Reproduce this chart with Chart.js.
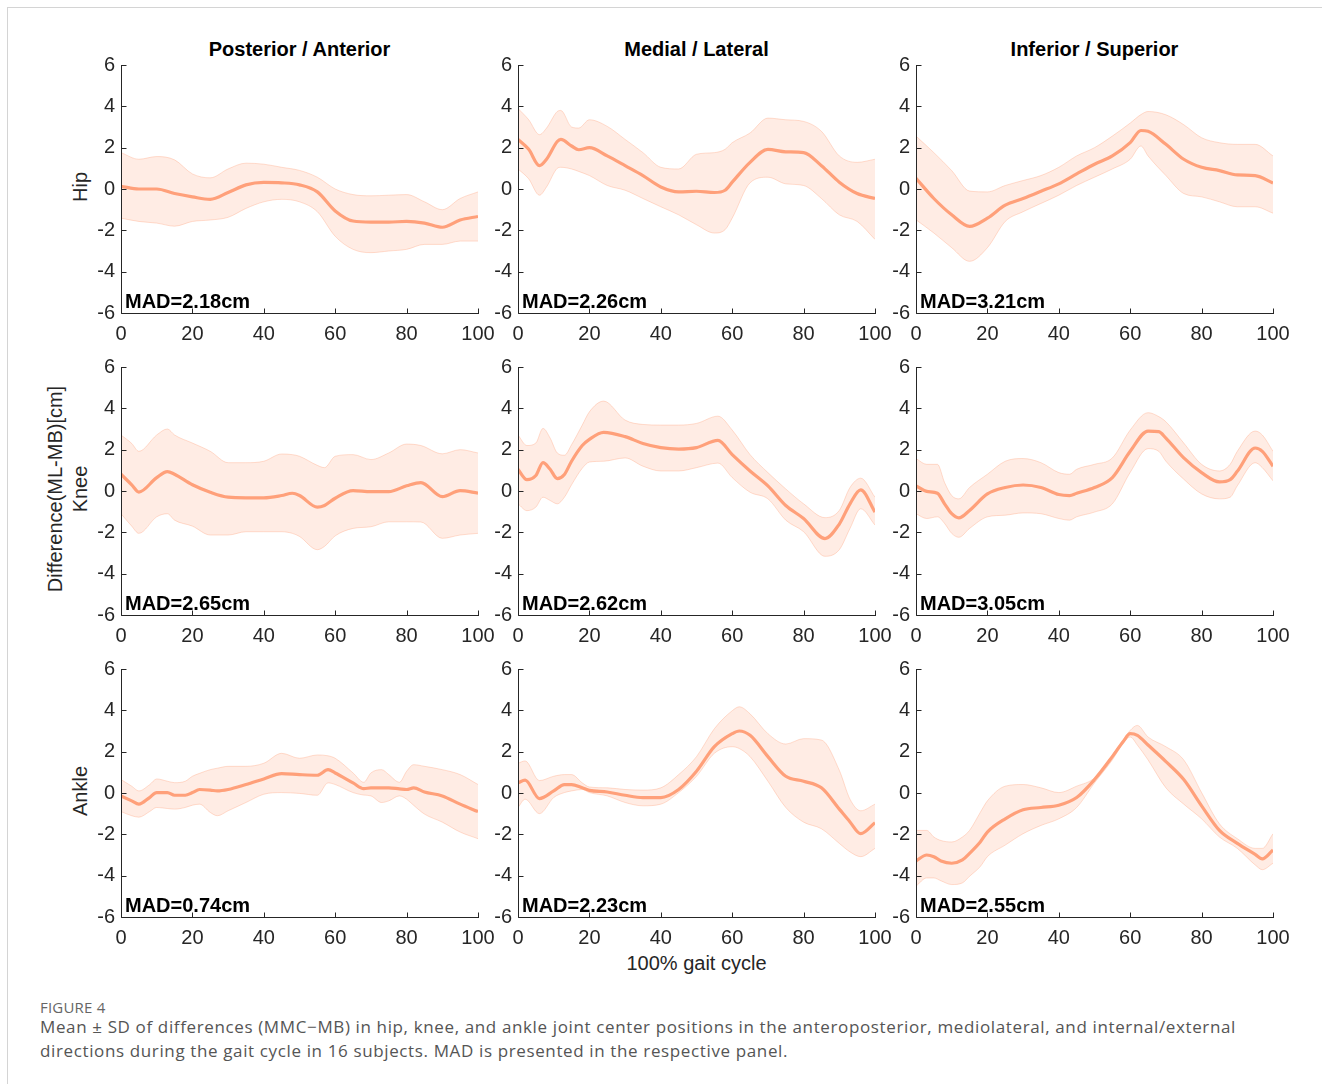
<!DOCTYPE html>
<html>
<head>
<meta charset="utf-8">
<script src="https://cdn.jsdelivr.net/npm/chart.js@4.4.1/dist/chart.umd.min.js"></script>
<style>
  body { margin: 0; background: #fff; }
  #page { position: relative; width: 1329px; height: 1084px; overflow: hidden;
          font-family: "Liberation Sans", Arial, sans-serif; color: #262626; }
  .frame { position: absolute; left: 7px; top: 7px; width: 1314px; height: 1100px;
           border-left: 1px solid #d4d4d4; border-top: 1px solid #d4d4d4; }
  canvas.panel { position: absolute; }
  .lbl { position: absolute; white-space: nowrap; transform: translate(-50%, -50%); font-size: 20px; }
  .title { font-weight: bold; color: #000; }
  .rot { transform: translate(-50%, -50%) rotate(-90deg); }
  .fig { position: absolute; left: 40px; top: 997px; font-family: "Open Sans", sans-serif;
         font-size: 15px; color: #666; letter-spacing: 0.2px; }
  .cap { position: absolute; left: 40px; font-family: "Open Sans", sans-serif;
         font-size: 17px; line-height: 24px; color: #555; white-space: nowrap; }
</style>
</head>
<body>
<div id="page">
  <div class="frame"></div>
  <div class="fig">FIGURE 4</div>
  <div class="cap" id="cap1" style="top:1015px">Mean ± SD of differences (MMC−MB) in hip, knee, and ankle joint center positions in the anteroposterior, mediolateral, and internal/external</div>
  <div class="cap" id="cap2" style="top:1039px">directions during the gait cycle in 16 subjects. MAD is presented in the respective panel.</div>
</div>
<script>
// titles / labels
const colTitles = ["Posterior / Anterior", "Medial / Lateral", "Inferior / Superior"];
const rowNames = ["Hip", "Knee", "Ankle"];
const madValues = ["2.18", "2.26", "3.21", "2.65", "2.62", "3.05", "0.74", "2.23", "2.55"];

// --- Hip, posterior/anterior
const hipApX = [0,5,10,15,20,25,30,35,40,45,50,55,60,65,70,75,80,85,90,95,100];
const hipApMean = [0.13,0,0,-0.22,-0.38,-0.5,-0.17,0.2,0.32,0.3,0.2,-0.14,-1.06,-1.55,-1.6,-1.6,-1.57,-1.65,-1.85,-1.5,-1.33];
const hipApUpper = [1.76,1.44,1.57,1.41,0.73,0.54,0.97,1.25,1.2,1.05,0.9,0.57,0.0,-0.27,-0.33,-0.3,-0.27,-0.62,-1.0,-0.46,-0.14];
const hipApLower = [-1.41,-1.57,-1.65,-1.8,-1.57,-1.5,-1.37,-0.94,-0.62,-0.5,-0.62,-1.1,-2.29,-2.92,-3.08,-3.0,-2.92,-2.68,-2.68,-2.52,-2.52];

// --- Hip, medial/lateral
const hipMlX = [0,3,6,8,11,12,15,17,20,25,30,35,40,45,50,55,58,60,65,70,75,80,85,90,95,100];
const hipMlMean = [2.4,1.92,1.13,1.44,2.3,2.4,2.08,1.9,2.0,1.6,1.13,0.65,0.1,-0.14,-0.11,-0.17,-0.06,0.33,1.29,1.92,1.8,1.76,1.13,0.33,-0.22,-0.46];
const hipMlUpper = [3.9,3.35,2.63,2.95,3.75,3.8,3.0,2.95,3.35,3.03,2.4,1.76,1.05,0.97,1.68,1.76,1.92,2.24,2.71,3.43,3.35,3.27,2.79,1.6,1.29,1.44];
const hipMlLower = [0.97,0.49,-0.3,0.1,1.0,1.05,0.97,0.85,0.65,0.17,-0.06,-0.46,-0.86,-1.25,-1.73,-2.13,-1.97,-1.41,0.3,0.57,0.25,0.17,-0.46,-1.25,-1.57,-2.44];

// --- Hip, inferior/superior
const hipIsX = [0,5,10,15,20,25,30,35,40,45,50,55,60,63,65,70,75,80,85,90,95,100];
const hipIsMean = [0.52,-0.46,-1.25,-1.81,-1.41,-0.78,-0.46,-0.11,0.25,0.73,1.2,1.6,2.24,2.83,2.79,2.16,1.44,1.05,0.89,0.68,0.65,0.29];
const hipIsUpper = [2.56,1.76,0.89,-0.1,-0.14,0.17,0.41,0.65,1.05,1.6,2.0,2.56,3.19,3.6,3.75,3.59,3.11,2.48,2.24,2.16,2.16,1.6];
const hipIsLower = [-1.49,-2.13,-2.84,-3.5,-2.84,-1.57,-1.1,-0.7,-0.3,0.17,0.57,0.97,1.44,2.08,1.6,0.65,-0.22,-0.38,-0.62,-0.86,-0.86,-1.17];

// --- Knee, posterior/anterior
const kneeApX = [0,3,5,10,13,15,20,25,30,35,40,45,48,50,55,57,60,65,70,75,80,84,90,95,100];
const kneeApMean = [0.81,0.3,-0.05,0.65,0.94,0.81,0.3,-0.06,-0.3,-0.33,-0.33,-0.22,-0.11,-0.22,-0.78,-0.7,-0.35,0.02,-0.03,-0.03,0.25,0.41,-0.27,0.02,-0.1];
const kneeApUpper = [2.71,2.3,1.92,2.71,3.0,2.71,2.32,1.92,1.37,1.37,1.44,1.79,1.76,1.68,1.24,1.13,1.68,1.76,1.52,1.84,2.27,2.2,1.8,2.0,1.84];
const kneeApLower = [-1.1,-1.7,-2.05,-1.25,-1.1,-1.41,-1.7,-2.13,-2.13,-1.97,-1.97,-1.97,-2.05,-2.2,-2.84,-2.68,-2.17,-1.81,-1.73,-1.49,-1.49,-1.5,-2.29,-2.13,-2.05];

// --- Knee, medial/lateral
const kneeMlX = [0,2.5,5,7,9,11,13,15,18,20,24,30,35,40,45,50,56,60,65,70,75,80,86,90,93,96,100];
const kneeMlMean = [1.05,0.55,0.75,1.37,1.05,0.6,0.8,1.44,2.2,2.5,2.84,2.63,2.3,2.1,2.03,2.1,2.45,1.76,0.97,0.25,-0.7,-1.33,-2.3,-1.6,-0.62,0.05,-1.02];
const kneeMlUpper = [2.71,2.2,2.32,3.03,2.56,1.84,1.73,2.24,3.19,3.83,4.35,3.43,3.22,3.19,3.19,3.27,3.62,2.95,1.76,0.89,0.1,-0.62,-1.29,-0.94,0.17,0.62,-0.3];
const kneeMlLower = [-0.62,-0.95,-0.78,-0.3,-0.46,-0.62,-0.3,0.3,1.1,1.4,1.44,1.6,1.2,0.97,0.97,1.13,1.35,0.65,-0.06,-0.38,-1.41,-1.97,-3.16,-2.84,-1.81,-0.86,-1.65];

// --- Knee, inferior/superior
const kneeIsX = [0,3,6,8,10,12,15,20,25,30,35,40,43,45,50,55,60,65,68,70,75,80,85,88,90,95,97,100];
const kneeIsMean = [0.25,-0.02,-0.11,-0.62,-1.1,-1.3,-0.94,-0.14,0.17,0.29,0.17,-0.17,-0.22,-0.11,0.17,0.65,1.92,2.9,2.87,2.56,1.6,0.89,0.44,0.55,0.95,2.08,1.92,1.2];
const kneeIsUpper = [1.57,1.29,1.29,0.41,-0.22,-0.38,0.17,0.81,1.44,1.57,1.37,0.89,0.81,1.05,1.29,1.6,2.95,3.79,3.6,3.35,2.32,1.29,0.97,1.29,1.92,2.9,2.71,1.92];
const kneeIsLower = [-1.1,-1.33,-1.25,-1.57,-2.05,-2.24,-1.81,-1.25,-1.17,-1.06,-1.1,-1.33,-1.41,-1.25,-1.02,-0.62,0.9,2.05,1.92,1.44,0.57,-0.14,-0.38,-0.3,0.25,1.37,1.13,0.49];

// --- Ankle, posterior/anterior
const ankleApX = [0,3,5,8,10,13,15,18,20,22,25,27,30,35,40,45,50,55,58,60,65,68,70,73,75,78,80,82,85,90,95,100];
const ankleApMean = [-0.14,-0.38,-0.54,-0.22,0.02,0.02,-0.11,-0.11,0.02,0.17,0.14,0.1,0.17,0.41,0.68,0.94,0.89,0.86,1.13,0.97,0.49,0.21,0.25,0.25,0.25,0.2,0.17,0.25,0.05,-0.14,-0.54,-0.9];
const ankleApUpper = [0.65,0.33,0.1,0.4,0.68,0.57,0.5,0.57,0.81,0.95,1.13,1.2,1.29,1.29,1.44,1.92,1.68,1.84,1.8,1.68,0.97,0.52,0.97,1.13,0.89,0.52,1.05,1.37,1.29,1.13,0.89,0.41];
const ankleApLower = [-0.9,-1.1,-1.17,-0.9,-0.7,-0.75,-0.78,-0.7,-0.59,-0.54,-0.94,-1.1,-0.86,-0.46,-0.06,0.02,-0.02,-0.11,0.49,0.41,0.02,-0.1,-0.14,-0.46,-0.38,-0.14,-0.3,-0.6,-1.02,-1.41,-1.89,-2.21];

// --- Ankle, medial/lateral
const ankleMlX = [0,2,6,10,13,15,18,20,25,30,35,40,45,50,55,60,62,65,70,75,80,85,90,93,96,100];
const ankleMlMean = [0.49,0.62,-0.27,0.1,0.41,0.41,0.25,0.13,0.05,-0.11,-0.22,-0.22,0.17,1.05,2.24,2.87,3.0,2.79,1.76,0.81,0.57,0.25,-0.78,-1.4,-1.97,-1.44];
const ankleMlUpper = [1.44,1.55,0.6,0.81,0.89,0.89,0.49,0.29,0.25,0.17,0.14,0.25,0.89,1.76,3.11,3.98,4.17,3.83,2.87,2.37,2.63,2.56,1.1,-0.3,-0.86,-0.54];
const ankleMlLower = [-0.7,-0.3,-1.0,-0.22,0.02,0.1,0.17,0.02,-0.14,-0.46,-0.62,-0.54,0.02,0.81,1.92,2.24,2.15,1.76,0.57,-0.7,-1.41,-1.73,-2.44,-2.85,-3.08,-2.68];

// --- Ankle, inferior/superior
const ankleIsX = [0,3,5,7,10,13,15,18,20,25,30,35,40,45,50,55,58,60,62,65,70,75,80,85,90,95,97,100];
const ankleIsMean = [-3.29,-3.0,-3.08,-3.29,-3.4,-3.24,-2.92,-2.37,-1.89,-1.25,-0.81,-0.7,-0.59,-0.22,0.65,1.76,2.48,2.87,2.79,2.32,1.52,0.65,-0.62,-1.81,-2.44,-2.97,-3.19,-2.76];
const ankleIsUpper = [-1.81,-1.81,-2.13,-2.3,-2.37,-2.13,-1.81,-0.94,-0.38,0.33,0.41,0.25,0.02,0.33,0.73,1.84,2.56,3.03,3.27,2.71,2.24,1.6,0.02,-1.49,-2.21,-2.68,-2.68,-1.97];
const ankleIsLower = [-4.51,-4.11,-4.11,-4.25,-4.43,-4.35,-4.03,-3.56,-3.08,-2.52,-1.97,-1.57,-1.25,-0.7,0.49,1.6,2.4,2.71,2.32,1.6,0.25,-0.54,-1.25,-2.13,-2.68,-3.48,-3.71,-3.4];

const panels = [
  [hipApX, hipApMean, hipApUpper, hipApLower],
  [hipMlX, hipMlMean, hipMlUpper, hipMlLower],
  [hipIsX, hipIsMean, hipIsUpper, hipIsLower],
  [kneeApX, kneeApMean, kneeApUpper, kneeApLower],
  [kneeMlX, kneeMlMean, kneeMlUpper, kneeMlLower],
  [kneeIsX, kneeIsMean, kneeIsUpper, kneeIsLower],
  [ankleApX, ankleApMean, ankleApUpper, ankleApLower],
  [ankleMlX, ankleMlMean, ankleMlUpper, ankleMlLower],
  [ankleIsX, ankleIsMean, ankleIsUpper, ankleIsLower],
];

// layout (px)
const colLeft = [121, 518, 916];
const rowTop = [61, 363, 665];
const plotW = 357, plotH = 252;
const padL = 50, padT = 14, padR = 26, padB = 34;
const FONT = '"Liberation Sans", Arial, sans-serif';
const AXIS = "#262626";
const LINE = "#ffa07a";

const page = document.getElementById("page");

// caption: stretch the first line to the reference width (40 -> 1236)
(function fitCaption() {
  const c1 = document.getElementById("cap1");
  const c2 = document.getElementById("cap2");
  const w = c1.getBoundingClientRect().width;
  const n = c1.textContent.length;
  const ls = (1196 - w) / n;
  c1.style.letterSpacing = ls + "px";
  c2.style.letterSpacing = ls + "px";
})();

function addLabel(text, x, y, cls) {
  const d = document.createElement("div");
  d.className = "lbl " + (cls || "");
  d.style.left = x + "px";
  d.style.top = y + "px";
  d.textContent = text;
  page.appendChild(d);
}

colTitles.forEach((t, c) => addLabel(t, colLeft[c] + plotW / 2, 49, "title"));
rowNames.forEach((r, i) => addLabel(r, 80, rowTop[i] + plotH / 2, "rot"));
addLabel("Difference(ML-MB)[cm]", 55, rowTop[1] + plotH / 2, "rot");
addLabel("100% gait cycle", colLeft[1] + plotW / 2, 963);

// matlab-like axes: left + bottom lines, inward ticks, MAD text
const matlabAxes = {
  id: "matlabAxes",
  afterDatasetsDraw(chart, args, opts) {
    const { ctx, chartArea: a, scales } = chart;
    const x = scales.x, y = scales.y;
    const L = Math.round(a.left) + 0.5, B = Math.round(a.bottom) + 0.5;
    ctx.save();
    ctx.strokeStyle = AXIS;
    ctx.lineWidth = 1;
    ctx.beginPath();
    ctx.moveTo(L, Math.round(a.top));
    ctx.lineTo(L, B);
    ctx.lineTo(Math.round(a.right) + 1, B);
    x.ticks.forEach((t) => {
      const px = Math.round(x.getPixelForValue(t.value)) + 0.5;
      ctx.moveTo(px, B);
      ctx.lineTo(px, B - 5);
    });
    y.ticks.forEach((t) => {
      const py = Math.round(y.getPixelForValue(t.value)) + 0.5;
      ctx.moveTo(L, py);
      ctx.lineTo(L + 5, py);
    });
    ctx.stroke();
    ctx.font = "bold 20px " + FONT;
    ctx.fillStyle = "#000";
    ctx.textBaseline = "alphabetic";
    ctx.fillText("MAD=" + opts.mad + "cm", a.left + 4, a.bottom - 5);
    ctx.restore();
  },
};

panels.forEach((p, i) => {
  const [xs, mean, upper, lower] = p;
  const r = Math.floor(i / 3), c = i % 3;
  const cv = document.createElement("canvas");
  cv.className = "panel";
  const w = padL + plotW + padR, h = padT + plotH + padB;
  cv.width = w;
  cv.height = h;
  cv.style.left = colLeft[c] - padL + "px";
  cv.style.top = rowTop[r] - padT + "px";
  page.appendChild(cv);

  const pts = (ys) => xs.map((x, k) => ({ x: x, y: ys[k] }));

  new Chart(cv, {
    type: "line",
    data: {
      datasets: [
        {
          data: pts(mean),
          borderColor: LINE,
          borderWidth: 3.2,
          pointRadius: 0,
          cubicInterpolationMode: "monotone",
          fill: false,
        },
        {
          data: pts(upper),
          borderColor: "rgba(255,160,122,0.35)",
          borderWidth: 1,
          pointRadius: 0,
          cubicInterpolationMode: "monotone",
          fill: false,
        },
        {
          data: pts(lower),
          borderColor: "rgba(255,160,122,0.35)",
          borderWidth: 1,
          pointRadius: 0,
          cubicInterpolationMode: "monotone",
          backgroundColor: "rgba(255,160,122,0.2)",
          fill: "-1",
        },
      ],
    },
    options: {
      responsive: false,
      animation: false,
      events: [],
      layout: { padding: { left: 0, top: padT, right: padR, bottom: 0 } },
      plugins: {
        legend: { display: false },
        tooltip: { enabled: false },
        matlabAxes: { mad: madValues[i] },
      },
      scales: {
        x: {
          type: "linear",
          min: 0,
          max: 100,
          afterFit: (s) => { s.height = padB; },
          ticks: { stepSize: 20, padding: 9, maxRotation: 0, autoSkip: false,
                   color: AXIS, font: { family: FONT, size: 20 } },
          grid: { display: false, drawTicks: false },
          border: { display: false },
        },
        y: {
          type: "linear",
          min: -6,
          max: 6,
          afterFit: (s) => { s.width = padL; },
          ticks: { stepSize: 2, padding: 6, color: AXIS, font: { family: FONT, size: 20 } },
          grid: { display: false, drawTicks: false },
          border: { display: false },
        },
      },
    },
    plugins: [matlabAxes],
  });
});
</script>
</body>
</html>
